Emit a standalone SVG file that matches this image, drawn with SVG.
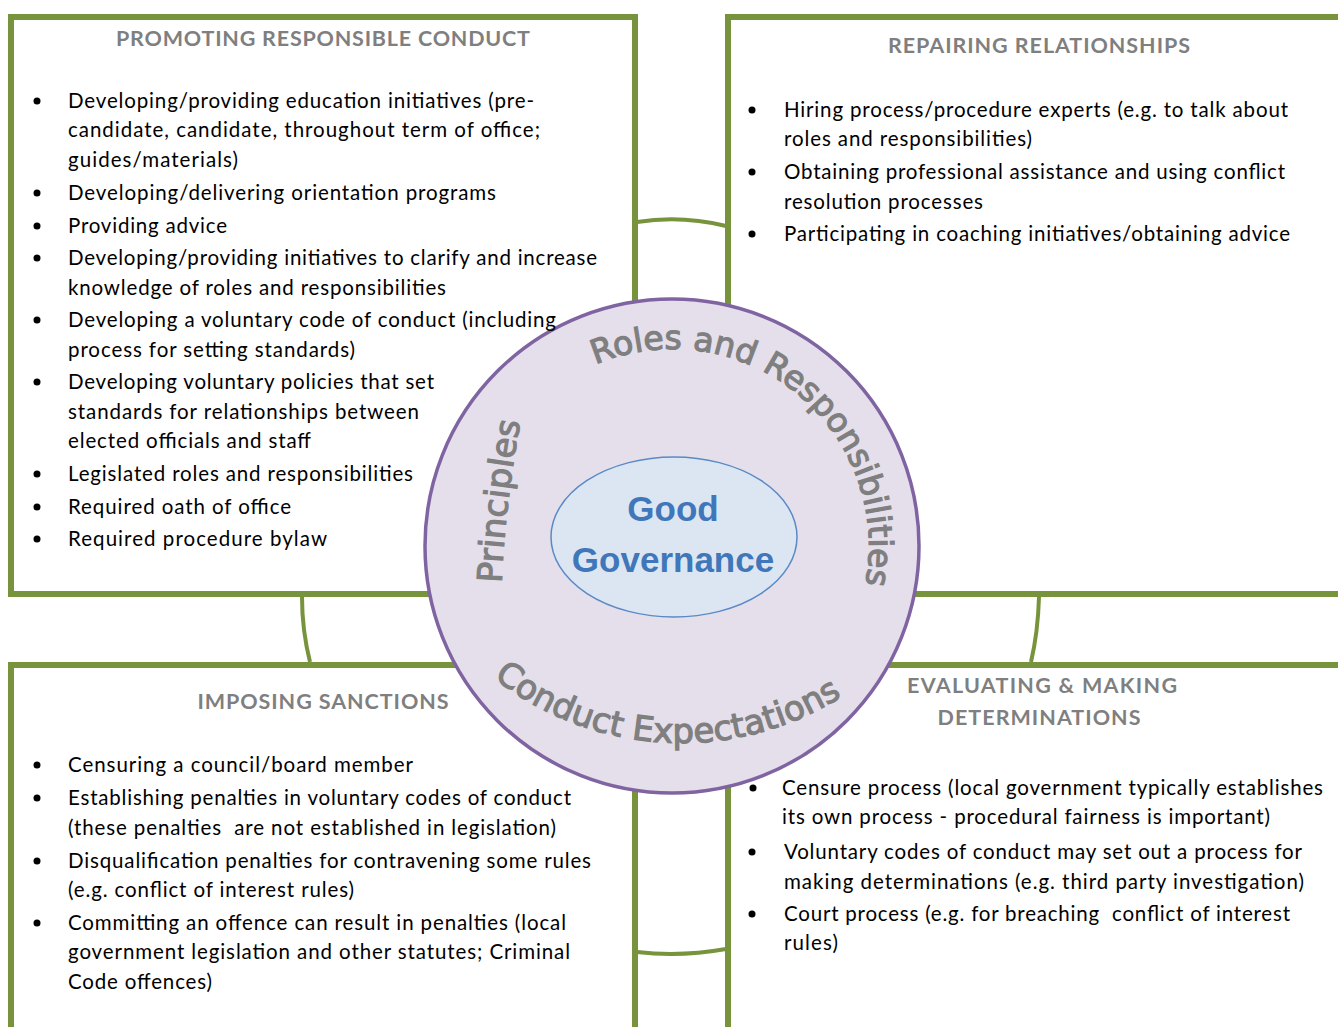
<svg xmlns="http://www.w3.org/2000/svg" width="1338" height="1027" viewBox="0 0 1338 1027">
<defs>
<style>
.box{fill:none;stroke:#77933C;stroke-width:6}
.link{fill:none;stroke:#77933C;stroke-width:4}
.hd{font-family:Lato,"Liberation Sans",sans-serif;font-weight:bold;font-size:21.5px;fill:#7F7F7F;text-anchor:middle}
.tx{font-family:Lato,"Liberation Sans",sans-serif;font-size:20.5px;fill:#000}
.bl{fill:#000}
.arc{font-family:"DejaVu Sans",Verdana,sans-serif;font-size:33px;fill:#7F7F7F;stroke:#7F7F7F;stroke-width:1.2}
.gg{font-family:"Liberation Sans",Arial,sans-serif;font-weight:bold;font-size:35px;fill:#3F77BA;text-anchor:middle}
</style>
<path id="pRoles" d="M475,546 A197,197 0 1 1 869,546 A197,197 0 1 1 475,546"/>
<path id="pConduct" d="M379,441 A302,302 0 0 0 983,441"/>
<path id="pPrin" d="M501,592 Q505,500 522,413"/>
</defs>
<rect width="1338" height="1027" fill="#fff"/>

<g id="connectors">
<path class="link" d="M637,222 Q681,215 726,226"/>
<path class="link" d="M302,597 Q302,630 310,662"/>
<path class="link" d="M1039,597 Q1038,632 1031,662"/>
<path class="link" d="M637,952 Q681,957 726,949"/>
</g>

<g id="box-promoting">
<rect class="box" x="11" y="17" width="624" height="577"/>
</g>
<g id="box-repairing">
<rect class="box" x="728" y="17" width="620" height="577"/>
</g>
<g id="box-sanctions">
<rect class="box" x="11" y="665" width="624" height="400"/>
</g>
<g id="box-evaluating">
<rect class="box" x="728" y="665" width="620" height="400"/>
</g>

<g id="center">
<circle cx="672" cy="546" r="247" fill="#E5DFEC" stroke="#8064A2" stroke-width="3.5"/>
<ellipse cx="674" cy="537" rx="123" ry="80" fill="#DCE6F2" stroke="#5A8AC6" stroke-width="1.5"/>
<text class="gg" x="673" y="521">Good</text>
<text class="gg" x="673" y="572">Governance</text>
<text class="arc"><textPath href="#pRoles" startOffset="35.9%" text-anchor="middle">Roles and Responsibilities</textPath></text>
<text class="arc" style="font-size:34px"><textPath href="#pConduct" startOffset="48.3%" text-anchor="middle">Conduct Expectations</textPath></text>
<text class="arc" style="font-size:34px"><textPath href="#pPrin" startOffset="50%" text-anchor="middle">Principles</textPath></text>
</g>

<g id="text-promoting">
<text class="hd" x="323" y="46" textLength="414">PROMOTING RESPONSIBLE CONDUCT</text>
<g class="bl">
<circle cx="37" cy="101" r="3.5"/><circle cx="37" cy="193" r="3.5"/><circle cx="37" cy="226" r="3.5"/><circle cx="37" cy="258" r="3.5"/><circle cx="37" cy="320" r="3.5"/><circle cx="37" cy="382" r="3.5"/><circle cx="37" cy="474" r="3.5"/><circle cx="37" cy="507" r="3.5"/><circle cx="37" cy="539" r="3.5"/>
</g>
<text class="tx" x="68" y="108" textLength="466">Developing/providing education initiatives (pre-</text>
<text class="tx" x="68" y="137" textLength="472">candidate, candidate, throughout term of office;</text>
<text class="tx" x="68" y="167" textLength="170">guides/materials)</text>
<text class="tx" x="68" y="200" textLength="428">Developing/delivering orientation programs</text>
<text class="tx" x="68" y="233" textLength="159">Providing advice</text>
<text class="tx" x="68" y="265" textLength="529">Developing/providing initiatives to clarify and increase</text>
<text class="tx" x="68" y="295" textLength="378">knowledge of roles and responsibilities</text>
<text class="tx" x="68" y="327" textLength="488">Developing a voluntary code of conduct (including</text>
<text class="tx" x="68" y="357" textLength="287">process for setting standards)</text>
<text class="tx" x="68" y="389" textLength="366">Developing voluntary policies that set</text>
<text class="tx" x="68" y="419" textLength="351">standards for relationships between</text>
<text class="tx" x="68" y="448" textLength="243">elected officials and staff</text>
<text class="tx" x="68" y="481" textLength="345">Legislated roles and responsibilities</text>
<text class="tx" x="68" y="514" textLength="223">Required oath of office</text>
<text class="tx" x="68" y="546" textLength="259">Required procedure bylaw</text>
</g>

<g id="text-repairing">
<text class="hd" x="1039" y="53" textLength="302">REPAIRING RELATIONSHIPS</text>
<g class="bl">
<circle cx="752" cy="110" r="3.5"/><circle cx="752" cy="172" r="3.5"/><circle cx="752" cy="234" r="3.5"/>
</g>
<text class="tx" x="784" y="117" textLength="504">Hiring process/procedure experts (e.g. to talk about</text>
<text class="tx" x="784" y="146" textLength="248">roles and responsibilities)</text>
<text class="tx" x="784" y="179" textLength="501">Obtaining professional assistance and using conflict</text>
<text class="tx" x="784" y="209" textLength="199">resolution processes</text>
<text class="tx" x="784" y="241" textLength="506">Participating in coaching initiatives/obtaining advice</text>
</g>

<g id="text-sanctions">
<text class="hd" x="323" y="709" textLength="251">IMPOSING SANCTIONS</text>
<g class="bl">
<circle cx="37" cy="765" r="3.5"/><circle cx="37" cy="798" r="3.5"/><circle cx="37" cy="861" r="3.5"/><circle cx="37" cy="923" r="3.5"/>
</g>
<text class="tx" x="68" y="772" textLength="345">Censuring a council/board member</text>
<text class="tx" x="68" y="805" textLength="503">Establishing penalties in voluntary codes of conduct</text>
<text class="tx" x="68" y="835" textLength="488" xml:space="preserve">(these penalties  are not established in legislation)</text>
<text class="tx" x="68" y="868" textLength="523">Disqualification penalties for contravening some rules</text>
<text class="tx" x="68" y="897" textLength="286">(e.g. conflict of interest rules)</text>
<text class="tx" x="68" y="930" textLength="498">Committing an offence can result in penalties (local</text>
<text class="tx" x="68" y="959" textLength="502">government legislation and other statutes; Criminal</text>
<text class="tx" x="68" y="989" textLength="144">Code offences)</text>
</g>

<g id="text-evaluating">
<text class="hd" x="1042" y="693" textLength="270">EVALUATING &amp; MAKING</text>
<text class="hd" x="1039" y="725" textLength="203">DETERMINATIONS</text>
<g class="bl">
<circle cx="753" cy="788" r="3.5"/><circle cx="752" cy="852" r="3.5"/><circle cx="752" cy="914" r="3.5"/>
</g>
<text class="tx" x="782" y="795" textLength="541">Censure process (local government typically establishes</text>
<text class="tx" x="782" y="824" textLength="488">its own process - procedural fairness is important)</text>
<text class="tx" x="784" y="859" textLength="518">Voluntary codes of conduct may set out a process for</text>
<text class="tx" x="784" y="889" textLength="520">making determinations (e.g. third party investigation)</text>
<text class="tx" x="784" y="921" textLength="506" xml:space="preserve">Court process (e.g. for breaching  conflict of interest</text>
<text class="tx" x="784" y="950" textLength="54">rules)</text>
</g>
</svg>
